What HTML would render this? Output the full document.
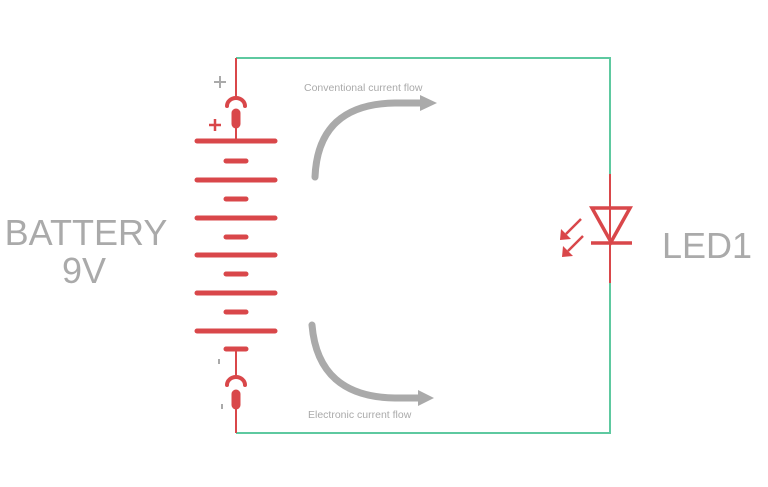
<!DOCTYPE html>
<html><head><style>body{margin:0;background:#fff}svg{display:block}</style></head><body>
<svg width="768" height="487" viewBox="0 0 768 487" xmlns="http://www.w3.org/2000/svg" font-family="Liberation Sans, sans-serif">
<g stroke="#5ec9a0" stroke-width="2" fill="none">
<polyline points="236,58 610,58 610,174"/>
<polyline points="610,283 610,433 236,433"/>
</g>
<g stroke="#d9474a" fill="none">
<line x1="236" y1="58" x2="236" y2="100" stroke-width="2"/>
<path d="M227,106 A9,8 0 0 1 245,106" stroke-width="4" stroke-linecap="round"/>
<line x1="236" y1="113" x2="236" y2="124" stroke-width="9" stroke-linecap="round"/>
<line x1="236" y1="124" x2="236" y2="141" stroke-width="2"/>
<line x1="236" y1="349" x2="236" y2="377" stroke-width="2"/>
<path d="M227,385 A9,8 0 0 1 245,385" stroke-width="4" stroke-linecap="round"/>
<line x1="236" y1="394" x2="236" y2="405" stroke-width="9" stroke-linecap="round"/>
<line x1="236" y1="405" x2="236" y2="433" stroke-width="2"/>
<g stroke-width="5" stroke-linecap="round">
<line x1="197" y1="141" x2="275" y2="141"/><line x1="226" y1="161" x2="246" y2="161"/>
<line x1="197" y1="180" x2="275" y2="180"/><line x1="226" y1="199" x2="246" y2="199"/>
<line x1="197" y1="218" x2="275" y2="218"/><line x1="226" y1="237" x2="246" y2="237"/>
<line x1="197" y1="255" x2="275" y2="255"/><line x1="226" y1="274" x2="246" y2="274"/>
<line x1="197" y1="293" x2="275" y2="293"/><line x1="226" y1="312" x2="246" y2="312"/>
<line x1="197" y1="331" x2="275" y2="331"/><line x1="226" y1="349" x2="246" y2="349"/>
</g>
<line x1="209" y1="125" x2="221" y2="125" stroke-width="2.5"/><line x1="215" y1="119" x2="215" y2="131" stroke-width="2.5"/>
<line x1="610" y1="174" x2="610" y2="283" stroke-width="2"/>
<polygon points="592,208 630,208 611,242" stroke-width="3.5"/>
<line x1="591" y1="243" x2="632" y2="243" stroke-width="3.5"/>
<line x1="581" y1="219" x2="566" y2="234" stroke-width="2.5"/>
<line x1="583" y1="236" x2="568" y2="251" stroke-width="2.5"/>
</g>
<polygon points="560,240 561,229 571,239" fill="#d9474a"/>
<polygon points="562,257 563,246 573,256" fill="#d9474a"/>
<g stroke="#aaa" stroke-width="2">
<line x1="214" y1="82" x2="226" y2="82"/><line x1="220" y1="76" x2="220" y2="88"/>
<line x1="219" y1="359" x2="219" y2="364"/><line x1="222" y1="404" x2="222" y2="409"/>
</g>
<g stroke="#aaa" stroke-width="7" fill="none" stroke-linecap="round">
<path d="M315,177 Q318,104 395,103 L422,103"/>
<path d="M312,325 Q318,397 395,398 L420,398"/>
</g>
<polygon points="420,95 437,103 420,111" fill="#aaa"/>
<polygon points="418,390 434,398 418,406" fill="#aaa"/>
<g fill="#aaa">
<text x="304" y="91" font-size="10.5">Conventional current flow</text>
<text x="308" y="418" font-size="10.5">Electronic current flow</text>
<text x="86" y="245" font-size="36" text-anchor="middle">BATTERY</text>
<text x="84" y="283" font-size="36" text-anchor="middle">9V</text>
<text x="707" y="258" font-size="36" text-anchor="middle">LED1</text>
</g>
</svg>
</body></html>
